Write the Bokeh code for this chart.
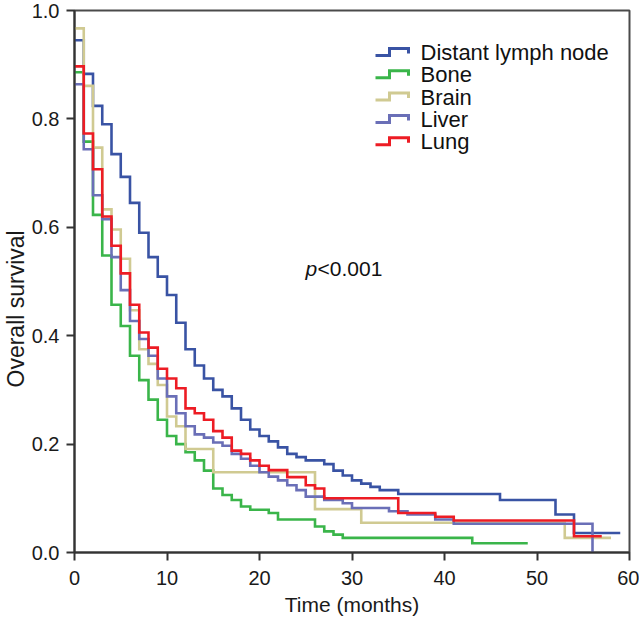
from bokeh.plotting import figure
from bokeh.models import Range1d, FixedTicker, PrintfTickFormatter, Title
from bokeh.core.properties import value
from bokeh.embed import file_html
from bokeh.resources import INLINE

# ---- data (step start times in months, survival from that time) ----
series_names = ["Distant lymph node", "Bone", "Brain", "Liver", "Lung"]
series_colors = ["#3953a4", "#3ab54a", "#d0ca92", "#6a6fb7", "#ed1c24"]

dln_t = [0, 1, 2, 3, 4, 5, 6, 7, 8, 9, 10, 11, 12, 13, 14, 15, 16, 17, 18, 19, 20,
         21, 22, 23, 24, 25, 27, 28, 29, 30, 31, 32, 33, 35, 46, 52, 54]
dln_s = [0.945, 0.883, 0.824, 0.79, 0.735, 0.693, 0.645, 0.59, 0.545, 0.509, 0.475,
         0.424, 0.375, 0.345, 0.321, 0.30, 0.288, 0.266, 0.245, 0.227, 0.215, 0.205,
         0.194, 0.182, 0.176, 0.17, 0.163, 0.151, 0.142, 0.133, 0.127, 0.121, 0.115,
         0.108, 0.097, 0.07, 0.036]
dln_end = 59

bone_t = [0, 1, 2, 3, 4, 5, 6, 7, 8, 9, 10, 11, 12, 13, 14, 15, 16, 17, 18, 19, 21,
          22, 26, 27, 28, 29, 43]
bone_s = [0.886, 0.758, 0.623, 0.548, 0.457, 0.418, 0.363, 0.318, 0.282, 0.245, 0.215,
          0.20, 0.185, 0.17, 0.151, 0.118, 0.106, 0.097, 0.085, 0.079, 0.073, 0.061,
          0.048, 0.039, 0.033, 0.027, 0.017]
bone_end = 49

brain_t = [0, 1, 2, 3, 4, 5, 6, 7, 8, 9, 10, 11, 12, 15, 26, 31, 53]
brain_s = [0.967, 0.861, 0.747, 0.633, 0.596, 0.542, 0.447, 0.375, 0.348, 0.309, 0.251,
           0.233, 0.191, 0.148, 0.08, 0.055, 0.027]
brain_end = 58

liver_t = [0, 1, 2, 3, 4, 5, 6, 7, 8, 9, 10, 11, 12, 13, 14, 15, 16, 17, 18, 19, 20,
           21, 22, 23, 24, 25, 27, 29, 30, 34, 36, 39, 41, 56]
liver_s = [0.864, 0.744, 0.659, 0.615, 0.545, 0.484, 0.427, 0.394, 0.363, 0.321, 0.288,
           0.257, 0.233, 0.218, 0.212, 0.203, 0.197, 0.182, 0.173, 0.16, 0.148, 0.14,
           0.133, 0.124, 0.115, 0.103, 0.097, 0.091, 0.082, 0.076, 0.07, 0.061, 0.053, 0.0]
liver_end = 56

lung_t = [0, 1, 2, 3, 4, 5, 6, 7, 8, 9, 10, 11, 12, 13, 14, 15, 16, 17, 18, 19, 20,
          21, 23, 25, 26, 27, 35, 39, 41, 54]
lung_s = [0.897, 0.773, 0.707, 0.62, 0.566, 0.515, 0.457, 0.406, 0.378, 0.339, 0.321,
          0.303, 0.266, 0.257, 0.245, 0.224, 0.212, 0.188, 0.182, 0.17, 0.16, 0.152,
          0.139, 0.124, 0.118, 0.10, 0.073, 0.066, 0.059, 0.030]
lung_end = 57

x_ticks = [0, 10, 20, 30, 40, 50, 60]
y_ticks = [0.0, 0.2, 0.4, 0.6, 0.8, 1.0]
x_title = "Time (months)"
y_title = "Overall survival"
p_text_main = "p"
p_text_rest = "<0.001"

FONT = "Liberation Sans"
TXT = "#1a1a1a"

# ---- layout (pixel geometry of the frame) ----
FRAME_W, FRAME_H = 555, 542
BORDER_L, BORDER_T, BORDER_R, BORDER_B = 71, 10, 10, 73
X0, X1, Y0, Y1 = 0, 60, 0, 1.0

p = figure(width=BORDER_L + FRAME_W + BORDER_R, height=BORDER_T + FRAME_H + BORDER_B,
           frame_width=FRAME_W, frame_height=FRAME_H,
           x_range=Range1d(X0, X1), y_range=Range1d(Y0, Y1),
           output_backend="svg", toolbar_location=None,
           min_border_left=BORDER_L, min_border_right=BORDER_R, min_border_top=BORDER_T,
           min_border_bottom=BORDER_B)
p.background_fill_color = "white"
p.border_fill_color = "white"
p.outline_line_color = "#4a4a4a"
p.outline_line_width = 2
p.xgrid.visible = False
p.ygrid.visible = False

for ax in (p.xaxis[0], p.yaxis[0]):
    ax.axis_line_color = "#333333"
    ax.axis_line_width = 2
    ax.major_tick_line_color = "#333333"
    ax.major_tick_line_width = 2
    ax.major_tick_in = 0
    ax.major_tick_out = 8
    ax.minor_tick_line_color = None
    ax.major_label_text_font = FONT
    ax.major_label_text_font_size = "20px"
    ax.major_label_text_color = TXT
    ax.axis_label_text_font = FONT
    ax.axis_label_text_font_style = "normal"
    ax.axis_label_text_color = TXT

p.xaxis[0].ticker = FixedTicker(ticks=x_ticks)
p.yaxis[0].ticker = FixedTicker(ticks=y_ticks)
p.yaxis[0].formatter = PrintfTickFormatter(format="%.1f")
p.xaxis[0].axis_label = x_title
p.xaxis[0].axis_label_text_font_size = "21px"
p.xaxis[0].major_label_standoff = 10
p.xaxis[0].axis_label_standoff = 5
p.yaxis[0].major_label_standoff = 7

# y title sits a little below the middle of the axis, as in the reference
p.add_layout(Title(text=y_title, align="left", offset=165, standoff=0,
                   text_font=FONT, text_font_size="23px", text_font_style="normal",
                   text_color=TXT), "left")

# helpers: canvas pixel (relative to figure top-left) -> data
px_x = (X1 - X0) / FRAME_W
px_y = (Y1 - Y0) / FRAME_H
def dx(px):
    return X0 + (px - BORDER_L) * px_x
def dy(py):
    return Y1 - (py - BORDER_T) * px_y

all_t = [dln_t, bone_t, brain_t, liver_t, lung_t]
all_s = [dln_s, bone_s, brain_s, liver_s, lung_s]
all_end = [dln_end, bone_end, brain_end, liver_end, lung_end]

for t, s, end, col in zip(all_t, all_s, all_end, series_colors):
    xs = list(t) + [end]
    ys = list(s) + [s[-1]]
    p.step(xs, ys, mode="after", line_color=col, line_width=2.6, line_join="miter")

# ---- custom legend with step-shaped icons ----
leg_left_px, leg_top_px, row_h = 372, 52, 22.3
icon_w = 33
for i, (name, col) in enumerate(zip(series_names, series_colors)):
    cy_px = leg_top_px + i * row_h
    xs = [dx(leg_left_px), dx(leg_left_px + 14), dx(leg_left_px + 14),
          dx(leg_left_px + icon_w), dx(leg_left_px + icon_w)]
    ys = [dy(cy_px + 3), dy(cy_px + 3), dy(cy_px - 4), dy(cy_px - 4), dy(cy_px + 1)]
    p.line(xs, ys, line_color=col, line_width=3, line_join="miter")
    p.text([dx(leg_left_px + icon_w + 12)], [dy(cy_px)], text=[name],
           text_font=value(FONT), text_font_size="22px", text_baseline="middle",
           text_align="left", text_color="#111111")

# ---- p value ----
p.text([dx(302)], [dy(268)], text=[p_text_main], text_font=value(FONT),
       text_font_size="21px", text_font_style="italic", text_baseline="middle",
       text_color="#111111")
p.text([dx(302)], [dy(268)], text=[p_text_rest], text_font=value(FONT),
       text_font_size="21px", text_baseline="middle", text_color="#111111", x_offset=12)

open("out.html", "w").write(file_html(p, INLINE))
